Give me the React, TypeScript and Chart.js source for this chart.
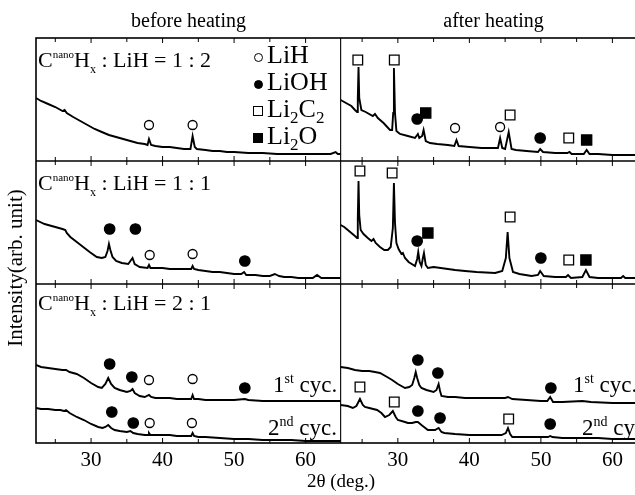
import React, { useEffect, useRef } from "react";
import { Chart, registerables } from "chart.js";
Chart.register(...registerables);

const SERIF = "'Liberation Serif','Times New Roman',Times,serif";

// panel geometry in 2θ (deg.)
const LEFT_MIN = 22.3;
const LEFT_MAX = 64.9;
const RIGHT_MIN = 22.0;
const RIGHT_MAX = 64.7;
const RIGHT_OFFSET = LEFT_MAX - RIGHT_MIN;
const X_TICKS = [30, 40, 50, 60];
const TICK_MARKS = [25, 30, 35, 40, 45, 50, 55, 60];
// row boundaries (arb. intensity units)
const ROW_BOUNDS = [0, 159, 282, 405];

// ---- before heating: [2θ, intensity] ----
const BH_12 = [[22.3,345],[23,342],[24,339],[25,336],[26,332],[26.3,333],[26.6,330],[27.5,326],[28.5,322],[29.5,318],[30.5,314],[31.5,311],[32.5,308],[33.5,306],[34.5,304],[35.5,302],[36.5,300],[37.5,299],[37.9,298],[38.1,304],[38.4,298],[39,297],[40,296],[41,296],[42,295],[43,294],[43.9,294],[44.2,307],[44.5,296],[44.8,294],[46,293],[47,292],[48,292],[49,291],[50,291],[52,290],[54,290],[56,289],[58,289],[60,289],[62,289],[63.5,289],[64.2,291],[64.5,289],[64.9,289]];
const BH_11 = [[22.3,223],[23.5,219],[25,216],[26,214],[26.4,213],[26.6,210],[27.1,206],[28,201],[28.9,196],[29.8,191],[30.8,186],[31.5,185],[32.0,186],[32.3,192],[32.5,199],[32.7,193],[33.0,186],[33.5,182],[34.3,180],[35.2,179],[35.6,183],[35.8,185],[36.1,179],[36.8,176],[37.9,175],[38.1,178],[38.3,175],[39,175],[40,175],[41,174],[42,174],[43,174],[44,174],[44.2,177],[44.4,174],[45,173],[46,172],[47,171],[48,171],[49,170],[50,169],[51,169],[51.4,171],[51.7,168],[53,168],[54,167],[55,167],[55.7,169],[56.3,167],[57,166],[58,166],[59,165],[60,165],[61,165],[61.6,168],[62.2,165],[63,165],[64,165],[64.9,165]];
const BH_21_1ST = [[22.3,78],[23,76],[24,75],[25,74],[26,73],[26.5,73],[27,71],[28,69],[29,65],[30,60],[31,56],[31.5,55],[32.0,59],[32.4,65],[32.8,59],[33.3,55],[34,53],[35,51],[35.5,52],[35.8,54],[36.1,50],[36.8,47],[37.5,46],[38.1,48],[38.4,46],[39,45],[40,45],[41,45],[42,44],[43,44],[44,44],[44.2,48],[44.4,44],[45,44],[46,43],[48,43],[50,43],[51.5,44],[52,43],[54,42],[56,42],[58,42],[60,42],[62,42],[64.9,42]];
const BH_21_2ND = [[22.3,35],[23,34],[24,34],[25,33],[25.7,33],[26.2,32],[26.5,33],[27,30],[28,26],[29,23],[30,19],[31,16],[31.6,15],[32.0,16],[32.4,18],[32.8,15],[33.3,13],[34,12],[35,11],[35.5,12],[35.9,10],[36.5,9],[37.5,8],[38.0,8],[38.1,10],[38.3,8],[39,8],[40,8],[41,8],[42,7],[43,7],[44,7],[44.2,10],[44.4,7],[45,6],[46,6],[48,5],[50,4],[52,4],[54,3],[56,3],[58,3],[60,2],[64.9,2]];

// ---- after heating: [2θ, intensity] ----
const AH_12 = [[22.0,343],[22.5,341],[23,339],[23.5,337],[24.0,333],[24.3,331],[24.4,345],[24.5,376],[24.6,345],[24.9,333],[25.5,331],[26.5,327],[26.8,329],[27.2,325],[28,320],[28.9,313],[29.2,313],[29.35,330],[29.45,375],[29.6,330],[29.8,312],[30.3,309],[31.4,307],[32.4,305],[32.8,309],[33.0,305],[33.4,307],[33.6,313],[33.9,302],[34.5,300],[35.5,299],[37,298],[37.9,297],[38.2,303],[38.5,297],[40,296],[41.7,295],[43,295],[44.0,295],[44.3,305],[44.6,295],[45.0,294],[45.5,311],[45.9,294],[46.5,293],[48,292],[49.6,291],[49.9,294],[50.3,291],[52,290],[53.7,290],[54,291],[54.3,289],[56.0,289],[56.4,293],[56.8,289],[58,289],[60,288],[62,288],[64.7,288]];
const AH_11 = [[22.0,218],[22.5,216],[23,213],[23.5,210],[24,207],[24.3,205],[24.4,225],[24.5,262],[24.6,228],[24.8,213],[25.2,209],[25.8,205],[26.3,202],[26.6,204],[26.9,200],[27.5,196],[28.1,193],[28.6,193],[29.0,196],[29.3,215],[29.45,260],[29.6,220],[29.8,200],[30.1,194],[30.5,189],[30.7,190],[31.0,185],[31.5,181],[32.4,177],[32.7,184],[32.85,191],[33.05,181],[33.3,177],[33.5,185],[33.65,190],[33.9,178],[34.2,175],[35,176],[36,175],[37,174],[38,173],[39.4,172],[41,171],[43.6,170],[44.6,172],[45.1,185],[45.35,211],[45.6,185],[46.1,171],[47,169],[48.7,167],[49.6,168],[49.9,172],[50.4,167],[52,166],[53.5,166],[53.8,168],[54.2,165],[55.8,166],[56.3,173],[56.8,166],[58,165],[59.4,165],[61.2,165],[61.5,167],[61.8,165],[63,165],[64.7,165]];
const AH_21_1ST = [[22.0,76],[23,75],[24,73],[25,72],[26,72],[26.8,71],[27.5,70],[28.5,66],[29.2,63],[30,59],[31,55],[31.6,56],[32.0,58],[32.3,65],[32.5,71],[32.7,65],[33.0,58],[33.3,55],[34,53],[35,51],[35.4,53],[35.7,59],[35.9,52],[36.1,47],[37,46],[38,46],[39.4,45],[41,45],[43,45],[45,45],[45.4,46],[46,44],[48,43],[50,42],[50.9,42],[51.3,46],[51.7,41],[53,41],[55.8,42],[57,41],[60,40],[62,40],[64.7,40]];
const AH_21_2ND = [[22.0,38],[23,37],[23.7,35],[24.2,37],[24.7,44],[25.1,38],[25.4,36],[26,35],[27.1,33],[27.7,30],[28.2,26],[28.8,28],[29.3,32],[29.7,26],[30,23],[31,21],[31.4,20],[32,20],[32.5,21],[32.8,21],[33.3,18],[34.2,13],[35.2,13],[35.7,15],[36.1,11],[36.5,10],[38,9],[40,8],[41.7,8],[43,8],[44.5,8],[45.1,10],[45.4,15],[45.7,9],[46,6],[48,6],[50,6],[51,6],[51.3,7],[51.6,6],[53,5],[55,5],[58,5],[60,4],[62,4],[64.7,4]];

// ---- phase markers: [2θ, height] ----
const BH_LIH = [[38.1,318],[44.2,318],[38.2,188],[44.2,189],[38.1,63],[44.2,64],[38.2,20],[44.1,20]];
const BH_LIOH = [[32.6,214],[36.2,214],[51.5,182],[32.6,79],[35.7,66],[51.5,55],[32.9,31],[35.9,20]];
const AH_LIH = [[38.0,315],[44.3,316]];
const AH_LIOH = [[32.7,324],[49.9,305],[32.7,202],[50.0,185],[32.8,83],[35.6,70],[51.4,55],[32.8,32],[35.9,25],[51.3,19]];
const AH_LI2C2 = [[24.4,383],[29.5,383],[45.7,328],[53.9,305],[24.7,272],[29.2,270],[45.7,226],[53.9,183],[24.7,56],[29.5,41],[45.5,24]];
const AH_LI2O = [[33.9,330],[56.4,303],[34.2,210],[56.3,183]];

const toXY = (pts: number[][], off: number) => pts.map(([t, v]) => ({ x: t + off, y: v }));

const curve = (pts: number[][], off: number) => ({
  data: toXY(pts, off),
  showLine: true,
  borderColor: "#000",
  borderWidth: 1.9,
  pointRadius: 0,
  tension: 0,
  fill: false,
});

const STYLES: Record<string, any> = {
  openCircle: { pointStyle: "circle", pointRadius: 4.5, backgroundColor: "#fff" },
  filledCircle: { pointStyle: "circle", pointRadius: 5.2, backgroundColor: "#000" },
  openSquare: { pointStyle: "rect", pointRadius: 6.8, backgroundColor: "#fff" },
  filledSquare: { pointStyle: "rect", pointRadius: 7.2, backgroundColor: "#000" },
};

const marks = (pts: number[][], off: number, kind: string) => ({
  data: toXY(pts, off),
  showLine: false,
  borderColor: "#000",
  borderWidth: 1.3,
  pointHoverRadius: 0,
  ...STYLES[kind],
});

const framePlugin = {
  id: "panelFrame",
  afterDatasetsDraw(chart: any) {
    const { ctx, chartArea: a, scales } = chart;
    const x = scales.x;
    const y = scales.y;
    ctx.save();
    ctx.strokeStyle = "#000";
    ctx.lineWidth = 1.3;
    ROW_BOUNDS.slice(1, -1).forEach((b) => {
      const py = y.getPixelForValue(b);
      ctx.beginPath();
      ctx.moveTo(a.left, py);
      ctx.lineTo(a.right, py);
      ctx.stroke();
    });
    ctx.lineWidth = 1.1;
    const cx = x.getPixelForValue(LEFT_MAX);
    ctx.beginPath();
    ctx.moveTo(cx, a.top);
    ctx.lineTo(cx, a.bottom);
    ctx.stroke();
    ctx.lineWidth = 1;
    [0, RIGHT_OFFSET].forEach((off) => {
      TICK_MARKS.forEach((t) => {
        const px = x.getPixelForValue(t + off);
        const len = t % 10 === 0 ? 5 : 4;
        ROW_BOUNDS.forEach((b, i) => {
          const py = y.getPixelForValue(b);
          ctx.beginPath();
          if (i < ROW_BOUNDS.length - 1) {
            ctx.moveTo(px, py);
            ctx.lineTo(px, py - len);
          }
          if (i > 0) {
            ctx.moveTo(px, py);
            ctx.lineTo(px, py + len);
          }
          ctx.stroke();
        });
      });
    });
    ctx.lineWidth = 1.6;
    ctx.strokeRect(a.left, a.top, a.right - a.left, a.bottom - a.top);
    ctx.restore();
  },
};

type TP = { x: number; y: number; size: number; anchor?: "start" | "middle"; children: React.ReactNode };
function Txt({ x, y, size, anchor = "start", children }: TP) {
  return (
    <div
      style={{
        position: "absolute",
        left: x,
        top: y - 0.8375 * size,
        fontFamily: SERIF,
        fontSize: size,
        lineHeight: 1,
        whiteSpace: "nowrap",
        color: "#000",
        transform: anchor === "middle" ? "translateX(-50%)" : undefined,
      }}
    >
      {children}
    </div>
  );
}
const Sup = ({ s, dy, children }: any) => (
  <span style={{ fontSize: s, position: "relative", top: -dy }}>{children}</span>
);
const Sub = ({ s, dy, children }: any) => (
  <span style={{ fontSize: s, position: "relative", top: dy }}>{children}</span>
);

function Mark({ x, y, kind }: { x: number; y: number; kind: string }) {
  const circle = kind.includes("Circle");
  const filled = kind.includes("filled");
  const size = circle ? 9 : 9.5;
  return (
    <div
      style={{
        position: "absolute",
        left: x - size / 2,
        top: y - size / 2,
        width: size,
        height: size,
        boxSizing: "border-box",
        border: "1.3px solid #000",
        borderRadius: circle ? "50%" : 0,
        background: filled ? "#000" : "#fff",
      }}
    />
  );
}

function Ratio({ y, r }: { y: number; r: string }) {
  return (
    <Txt x={38} y={y} size={22}>
      C<Sup s={11} dy={9}>nano</Sup>H<Sub s={12} dy={6}>x</Sub> : LiH = {r}
    </Txt>
  );
}

export default function App() {
  const ref = useRef<HTMLCanvasElement>(null);
  useEffect(() => {
    const datasets: any[] = [
      curve(BH_12, 0),
      curve(BH_11, 0),
      curve(BH_21_1ST, 0),
      curve(BH_21_2ND, 0),
      curve(AH_12, RIGHT_OFFSET),
      curve(AH_11, RIGHT_OFFSET),
      curve(AH_21_1ST, RIGHT_OFFSET),
      curve(AH_21_2ND, RIGHT_OFFSET),
      marks(BH_LIH, 0, "openCircle"),
      marks(BH_LIOH, 0, "filledCircle"),
      marks(AH_LIH, RIGHT_OFFSET, "openCircle"),
      marks(AH_LIOH, RIGHT_OFFSET, "filledCircle"),
      marks(AH_LI2C2, RIGHT_OFFSET, "openSquare"),
      marks(AH_LI2O, RIGHT_OFFSET, "filledSquare"),
    ];
    const chart = new Chart(ref.current as HTMLCanvasElement, {
      type: "scatter",
      data: { datasets },
      options: {
        responsive: false,
        devicePixelRatio: 1,
        animation: false,
        layout: { padding: { left: 36, top: 38, right: 14, bottom: 0 } },
        plugins: { legend: { display: false }, tooltip: { enabled: false } },
        scales: {
          x: {
            type: "linear",
            min: LEFT_MIN,
            max: RIGHT_MAX + RIGHT_OFFSET,
            grid: { display: false, drawTicks: false },
            border: { display: false },
            ticks: {
              autoSkip: false,
              maxRotation: 0,
              padding: 5,
              color: "#000",
              font: { family: SERIF, size: 21 },
              callback: (v: any) => (v > LEFT_MAX ? String(Math.round(v - RIGHT_OFFSET)) : String(v)),
            },
            afterBuildTicks: (axis: any) => {
              axis.ticks = [...X_TICKS, ...X_TICKS.map((t) => t + RIGHT_OFFSET)].map((value) => ({ value }));
            },
            afterFit: (axis: any) => {
              axis.height = 52;
            },
            title: {
              display: true,
              text: "2θ (deg.)",
              color: "#000",
              font: { family: SERIF, size: 19 },
              padding: { top: 0, bottom: 2 },
            },
          },
          y: { type: "linear", min: ROW_BOUNDS[0], max: ROW_BOUNDS[3], display: false },
        },
      } as any,
      plugins: [framePlugin],
    });
    return () => chart.destroy();
  }, []);

  return (
    <div
      style={{
        position: "fixed",
        left: 0,
        top: 0,
        width: 635,
        height: 495,
        overflow: "hidden",
        background: "#fff",
      }}
    >
      <canvas ref={ref} width={660} height={495} style={{ position: "absolute", left: 0, top: 0, width: 660, height: 495 }} />
      <div style={{ position: "absolute", left: 0, top: 0, width: 660, height: 495, pointerEvents: "none" }}>
        <Txt x={188.5} y={27} size={20} anchor="middle">before heating</Txt>
        <Txt x={493.5} y={27} size={20} anchor="middle">after heating</Txt>
        <div
          style={{
            position: "absolute",
            left: 15,
            top: 268,
            transform: "translate(-50%,-50%) rotate(-90deg)",
            fontFamily: SERIF,
            fontSize: 21,
            lineHeight: 1,
            whiteSpace: "nowrap",
            color: "#000",
          }}
        >
          Intensity(arb. unit)
        </div>
        <Ratio y={67} r="1 : 2" />
        <Ratio y={190} r="1 : 1" />
        <Ratio y={310} r="2 : 1" />
        <Mark x={258} y={57} kind="openCircle" />
        <Mark x={258} y={84} kind="filledCircle" />
        <Mark x={258} y={111} kind="openSquare" />
        <Mark x={258} y={138} kind="filledSquare" />
        <Txt x={267} y={64} size={26}>LiH</Txt>
        <Txt x={267} y={91} size={26}>LiOH</Txt>
        <Txt x={267} y={118} size={26}>
          Li<Sub s={17} dy={6}>2</Sub>C<Sub s={17} dy={6}>2</Sub>
        </Txt>
        <Txt x={267} y={145} size={26}>
          Li<Sub s={17} dy={6}>2</Sub>O
        </Txt>
        <Txt x={273} y={392} size={23}>
          1<Sup s={14} dy={9}>st</Sup> cyc.
        </Txt>
        <Txt x={268} y={435} size={23}>
          2<Sup s={14} dy={9}>nd</Sup> cyc.
        </Txt>
        <Txt x={573} y={392} size={23}>
          1<Sup s={14} dy={9}>st</Sup> cyc.
        </Txt>
        <Txt x={582} y={435} size={23}>
          2<Sup s={14} dy={9}>nd</Sup> cyc.
        </Txt>
      </div>
    </div>
  );
}
